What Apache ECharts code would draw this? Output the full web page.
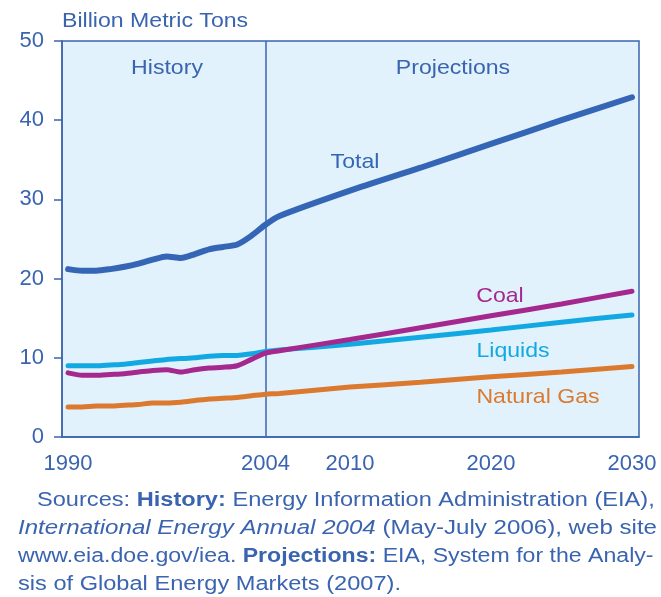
<!DOCTYPE html>
<html>
<head>
<meta charset="utf-8">
<script src="https://cdn.jsdelivr.net/npm/echarts@6/dist/echarts.min.js"></script>
<style>
  html, body { margin: 0; padding: 0; background: #fff; }
  #chart { width: 661px; height: 597px; }
</style>
</head>
<body>
<div id="chart"></div>
<script>
// years (history yearly, projections every 5 years)
const years = [1990, 1991, 1992, 1993, 1994, 1995, 1996, 1997, 1998, 1999,
  2000, 2001, 2002, 2003, 2004, 2005, 2010, 2015, 2020, 2025, 2030]

// billion metric tons
const total = [21.2, 21.0, 21.0, 21.2, 21.5, 21.9, 22.4, 22.8, 22.6, 23.1,
  23.7, 24.0, 24.3, 25.4, 26.8, 27.9, 31.1, 34.0, 37.0, 40.0, 42.9]
const coal = [8.1, 7.8, 7.8, 7.9, 8.0, 8.2, 8.4, 8.5, 8.2, 8.5,
  8.7, 8.8, 9.0, 9.8, 10.6, 10.9, 12.3, 13.8, 15.3, 16.8, 18.4]
const liquids = [9.0, 9.0, 9.0, 9.1, 9.2, 9.4, 9.6, 9.8, 9.9, 10.0,
  10.2, 10.3, 10.3, 10.5, 10.8, 11.0, 11.7, 12.6, 13.5, 14.5, 15.4]
const naturalGas = [3.8, 3.8, 3.9, 3.9, 4.0, 4.1, 4.3, 4.3, 4.4, 4.6,
  4.8, 4.9, 5.0, 5.2, 5.4, 5.5, 6.3, 6.9, 7.6, 8.2, 8.9]

const xTickYears = [1990, 2004, 2010, 2020, 2030]
const yTicks = [0, 10, 20, 30, 40, 50]
const splitYear = 2004

const blue = '#3a64b0'
const font = 'Liberation Sans, Arial, sans-serif'

const pairs = (vals) => years.map((y, i) => [y, vals[i]])

const mChart = echarts.init(document.getElementById('chart'))

const lineSeries = (name, vals, color, width) => ({
  type: 'line',
  name: name,
  data: pairs(vals),
  showSymbol: false,
  smooth: 0.25,
  color: color,
  lineStyle: { width: width, color: color, cap: 'round' },
  z: 3
})

// text label drawn inside / around the chart (the source font is a bit wider)
const label = (text, x, y, color, align) => ({
  type: 'text', x: x, y: y, scaleX: 1.1,
  style: { text: text, fill: color, font: '21px ' + font, align: align || 'center', verticalAlign: 'middle' }
})

// note lines are justified in the source, so each gets its own stretch
const bold = { fontWeight: 'bold', fontSize: 20, fontFamily: font, fill: blue }
const note = (text, x, y, sx, rich) => ({
  type: 'text', x: x, y: y, scaleX: sx,
  style: { text: text, fill: blue, font: '20px ' + font, align: 'left', verticalAlign: 'middle', rich: rich || {} }
})

const options = {
  animation: false,
  grid: {
    left: 62,
    right: 22,
    top: 41,
    bottom: 160,
    show: true,
    backgroundColor: '#e1f2fc',
    borderColor: blue,
    borderWidth: 1.5
  },
  xAxis: {
    type: 'value',
    min: 1989.57,
    max: 2030.5,
    splitLine: { show: false },
    axisLine: { lineStyle: { color: blue, width: 1.5 } },
    axisTick: { show: false },
    axisLabel: {
      customValues: xTickYears,
      color: blue,
      fontSize: 22,
      fontFamily: font,
      margin: 16,
      formatter: (v) => String(v)
    }
  },
  yAxis: {
    type: 'value',
    min: 0,
    max: 50,
    interval: 10,
    splitLine: { show: false },
    axisLine: { show: true, lineStyle: { color: blue, width: 1.5 } },
    axisTick: { show: true, length: 8, lineStyle: { color: blue, width: 1.5 }, customValues: yTicks },
    axisLabel: { color: blue, fontSize: 22, fontFamily: font, margin: 18 }
  },
  series: [
    Object.assign(lineSeries('Natural Gas', naturalGas, '#db7a2e', 5), {
      markLine: {
        silent: true,
        symbol: 'none',
        label: { show: false },
        lineStyle: { color: blue, width: 1.5, type: 'solid' },
        data: [{ xAxis: splitYear }],
        z: 1
      }
    }),
    lineSeries('Liquids', liquids, '#12a9e3', 5),
    lineSeries('Coal', coal, '#a4288e', 5),
    lineSeries('Total', total, '#3566b6', 6)
  ],
  graphic: [
    label('Billion Metric Tons', 62, 21, blue, 'left'),
    label('History', 167, 68, blue),
    label('Projections', 453, 68, blue),
    label('Total', 355, 162, '#3566b6'),
    label('Coal', 500, 296, '#a4288e'),
    label('Liquids', 513, 351, '#12a9e3'),
    label('Natural Gas', 538, 397, '#db7a2e'),
    // sources note under the chart
    note('Sources: {b|History:} Energy Information Administration (EIA),', 37, 500, 1.18, { b: bold }),
    note('{i|International Energy Annual 2004} (May-July 2006), web site', 18, 528, 1.205,
      { i: { fontStyle: 'italic', fontSize: 20, fontFamily: font, fill: blue } }),
    note('www.eia.doe.gov/iea. {b|Projections:} EIA, System for the Analy-', 18, 556, 1.155, { b: bold }),
    note('sis of Global Energy Markets (2007).', 18, 584, 1.18)
  ]
}

mChart.setOption(options)
</script>
</body>
</html>
